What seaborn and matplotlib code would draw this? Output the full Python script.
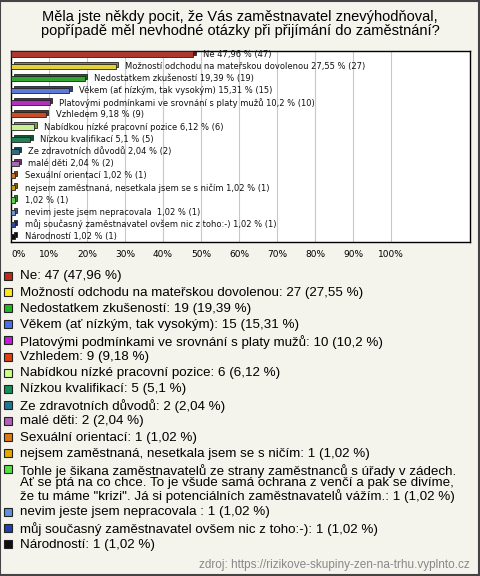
import numpy as np
import matplotlib
matplotlib.use("Agg")
import matplotlib.pyplot as plt
import matplotlib.transforms as mtransforms
from matplotlib.patches import Rectangle
import matplotlib.colors as mcolors
import seaborn as sns

# data
names = [
    "Ne",
    "Možností odchodu na mateřskou dovolenou",
    "Nedostatkem zkušeností",
    "Věkem (ať nízkým, tak vysokým)",
    "Platovými podmínkami ve srovnání s platy mužů",
    "Vzhledem",
    "Nabídkou nízké pracovní pozice",
    "Nízkou kvalifikací",
    "Ze zdravotních důvodů",
    "malé děti",
    "Sexuální orientací",
    "nejsem zaměstnaná, nesetkala jsem se s ničím",
    "Tohle je šikana zaměstnavatelů ze strany zaměstnanců s úřady v zádech.\n"
    "Ať se ptá na co chce. To je všude samá ochrana z venčí a pak se divíme,\n"
    "že tu máme \"krizi\". Já si potenciálních zaměstnavatelů vážím.",
    "nevim jeste jsem nepracovala ",
    "můj současný zaměstnavatel ovšem nic z toho:-)",
    "Národností",
]
bar_names = names[:12] + ["", "nevim jeste jsem nepracovala ", "můj současný zaměstnavatel ovšem nic z toho:-)", "Národností"]
counts = [47, 27, 19, 15, 10, 9, 6, 5, 2, 2, 1, 1, 1, 1, 1, 1]
pcts = [47.96, 27.55, 19.39, 15.31, 10.2, 9.18, 6.12, 5.1, 2.04, 2.04, 1.02, 1.02, 1.02, 1.02, 1.02, 1.02]
colors = ["#c0281a", "#ffe81a", "#1fb81f", "#4a70e8", "#c21ad6", "#e04010", "#ccff88", "#10905a",
          "#207890", "#b060b8", "#e07810", "#e0a800", "#50e040", "#6090e0", "#2040b0", "#101010"]
ticks = list(range(0, 101, 10))

def fmt(v):
    return ("%g" % v).replace(".", ",")

bg = "#f4f3ec"
fig = plt.figure(figsize=(4.8, 5.76), dpi=100, facecolor=bg)
W, H = 480, 576
ax = fig.add_axes([11 / W, 1 - 242 / H, 459 / W, 191 / H])

ids = [str(i) for i in range(len(names))]
sns.barplot(x=pcts, y=ids, hue=ids, palette=colors, orient="h", width=0.42,
            edgecolor="#222222", linewidth=0.6, legend=False, ax=ax, zorder=3)

# fake 3D depth behind each bar
off = mtransforms.ScaledTranslation(2.5 / 100, 2 / 100, fig.dpi_scale_trans)
for p, c in zip(ax.patches, colors):
    dark = np.array(mcolors.to_rgb(c)) * 0.6
    sh = Rectangle(p.get_xy(), p.get_width(), p.get_height(), facecolor=dark,
                   edgecolor="#222222", linewidth=0.6, transform=ax.transData + off, zorder=2)
    ax.add_patch(sh)

for i, (nm, pc, ct) in enumerate(zip(bar_names, pcts, counts)):
    lab = (nm + " " if nm else "") + f"{fmt(pc)} % ({ct})"
    ax.annotate(lab, (pc, i), xytext=(7, 0), textcoords="offset points",
                va="center", ha="left", fontsize=6, family="DejaVu Sans", color="#111111", zorder=4)

ax.set_xlim(0, 120.8)
ax.set_ylim(15.45, -0.25)
ax.set_facecolor("white")
ax.set_xticks(ticks)
ax.set_xticklabels([f"{t}%" for t in ticks], fontsize=6.5, family="DejaVu Sans")
ax.get_xticklabels()[0].set_ha("left")
ax.tick_params(axis="x", length=0, pad=6)
ax.set_yticks([])
ax.set_xlabel("")
ax.set_ylabel("")
for t in ticks[1:]:
    ax.axvline(t, color="#c8c8c8", lw=0.8, zorder=1)
for s in ax.spines.values():
    s.set_color("black")
    s.set_linewidth(1)

# title
fig.text(0.5, 1 - 24 / H,
         "Měla jste někdy pocit, že Vás zaměstnavatel znevýhodňoval,\n"
         "popřípadě měl nevhodné otázky při přijímání do zaměstnání?",
         ha="center", va="center", fontsize=10.5, family="Liberation Sans", linespacing=1.0)

# legend drawn by hand
y = 276
for nm, ct, pc, c in zip(names, counts, pcts, colors):
    fig.patches.append(Rectangle((4 / W, 1 - (y + 4) / H), 8 / W, 8 / H, transform=fig.transFigure,
                                 facecolor=c, edgecolor="#222222", linewidth=0.8))
    fig.text(20 / W, 1 - (y - 5.5) / H, f"{nm}: {ct} ({fmt(pc)} %)", ha="left", va="top",
             fontsize=9.6, family="Liberation Sans", linespacing=0.98)
    y += 16.1 + 13.3 * nm.count("\n")

fig.text(470 / W, 1 - 565 / H, "zdroj: https://rizikove-skupiny-zen-na-trhu.vyplnto.cz",
         ha="right", va="center", fontsize=8.5, family="Liberation Sans", color="#888888")

fig.patches.append(Rectangle((0.001, 0.001), 0.997, 0.997, transform=fig.transFigure,
                             fill=False, edgecolor="#444444", linewidth=1.5))

fig.savefig("out.png", dpi=100, facecolor=bg)
